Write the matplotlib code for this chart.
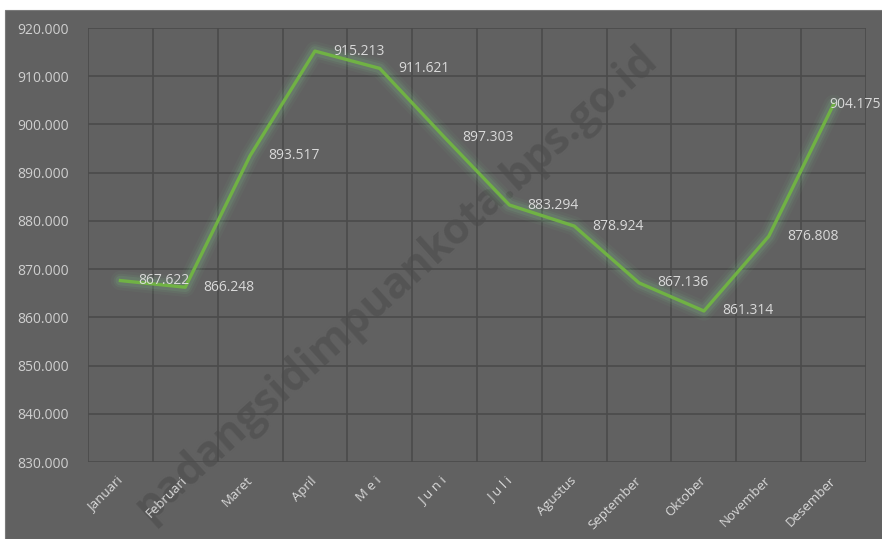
import matplotlib.pyplot as plt
from matplotlib.ticker import FuncFormatter, MultipleLocator

# data
months = ["Januari", "Februari", "Maret", "April", "M e i", "J u n i",
          "J u l i", "Agustus", "September", "Oktober", "November", "Desember"]
values = [867622, 866248, 893517, 915213, 911621, 897303,
          883294, 878924, 867136, 861314, 876808, 904175]

plt.rcParams['font.family'] = ['Open Sans', 'DejaVu Sans']

bg = "#616161"
grid_col = "#4b4b4b"
txt_col = "#d9d9d9"
green = "#70b244"

fig = plt.figure(figsize=(8.82, 5.39), dpi=100)
fig.patch.set_facecolor("white")
panel = plt.Rectangle((5 / 882, 0), 1, 1 - 10 / 539, transform=fig.transFigure,
                      facecolor=bg, edgecolor="#7a7a7a", linewidth=0.8, zorder=-5)
fig.patches.append(panel)

ax = fig.add_axes([88 / 882, 1 - 462 / 539, (866 - 88) / 882, (462 - 28) / 539])
ax.set_facecolor("none")

x = list(range(len(months)))

# glow
for lw, a in [(14, 0.05), (10, 0.08), (7, 0.12)]:
    ax.plot(x, values, color="#7fd08a", linewidth=lw, alpha=a, solid_capstyle="round",
            solid_joinstyle="round", zorder=3)
ax.plot(x, values, color=green, linewidth=2.4, solid_joinstyle="round", zorder=4)

ax.set_xlim(-0.5, len(months) - 0.5)
ax.set_ylim(830000, 920000)
ax.yaxis.set_major_locator(MultipleLocator(10000))
ax.yaxis.set_major_formatter(FuncFormatter(lambda v, p: f"{v:,.0f}".replace(",", ".")))
ax.set_xticks(x)
ax.set_xticklabels(months, rotation=45, ha="right", va="center", rotation_mode="anchor")
ax.set_xticks([i - 0.5 for i in range(len(months) + 1)], minor=True)

ax.grid(axis="y", which="major", color=grid_col, linewidth=1.2)
ax.grid(axis="x", which="minor", color=grid_col, linewidth=1.2)
ax.set_axisbelow(True)
for s in ax.spines.values():
    s.set_visible(False)
ax.tick_params(axis="both", which="both", length=0, colors=txt_col)
ax.tick_params(axis="x", which="major", pad=12, labelsize=9.5)
ax.tick_params(axis="y", pad=14, labelsize=10)
for lab in ax.get_yticklabels():
    lab.set_color("#cfcfcf")

# data labels, right of the points
for i, v in enumerate(values):
    dx = 13 if i < len(values) - 1 else -3
    ax.annotate(f"{v:,.0f}".replace(",", "."), (i, v), xytext=(dx, 0), textcoords="offset points",
                ha="left", va="center", fontsize=10, color=txt_col, zorder=6)

# watermark (under grid and labels)
ax.text(0.45, 0.475, "padangsidimpuankota.bps.go.id", fontsize=31, fontweight="bold",
        color="#4e4e4e", alpha=0.65, rotation=42, ha="center", va="center", zorder=0.2,
        transform=fig.transFigure, clip_on=False)

fig.savefig("out.png", dpi=100, facecolor="white")
